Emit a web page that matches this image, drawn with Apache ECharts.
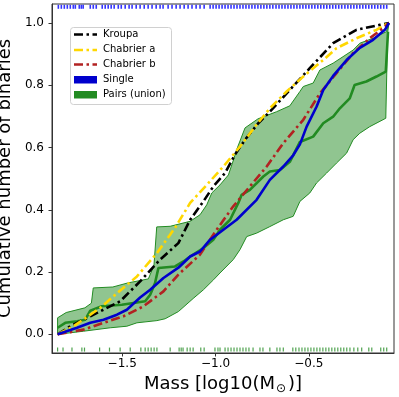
<!DOCTYPE html>
<html>
<head>
<meta charset="utf-8">
<script src="https://cdn.jsdelivr.net/npm/echarts@6/dist/echarts.min.js"></script>
<style>
  html, body { margin: 0; padding: 0; background: #fff; }
  #chart { width: 399px; height: 397px; }
</style>
</head>
<body>
<div id="chart"></div>
<script>
// curves: [log10 mass, cumulative fraction]
const kroupa = [
  [-1.846, 0], [-1.778, 0.026], [-1.671, 0.058], [-1.511, 0.106], [-1.404, 0.170],
  [-1.297, 0.240], [-1.199, 0.293], [-1.136, 0.368], [-1.065, 0.427], [-1.012, 0.475],
  [-0.949, 0.518], [-0.896, 0.577], [-0.842, 0.625], [-0.771, 0.678], [-0.709, 0.715],
  [-0.602, 0.785], [-0.495, 0.855], [-0.370, 0.935], [-0.245, 0.978], [-0.120, 0.994],
  [-0.071, 1.0]
]
const chabrierA = [
  [-1.846, 0], [-1.760, 0.026], [-1.618, 0.085], [-1.547, 0.122], [-1.421, 0.186],
  [-1.314, 0.261], [-1.217, 0.342], [-1.136, 0.422], [-1.047, 0.480], [-0.958, 0.539],
  [-0.869, 0.603], [-0.789, 0.667], [-0.709, 0.726], [-0.619, 0.780], [-0.530, 0.828],
  [-0.423, 0.881], [-0.352, 0.919], [-0.245, 0.951], [-0.138, 0.978], [-0.076, 0.999]
]
const chabrierB = [
  [-1.846, 0], [-1.707, 0.015], [-1.600, 0.037], [-1.493, 0.058], [-1.386, 0.090],
  [-1.279, 0.138], [-1.199, 0.192], [-1.083, 0.256], [-0.994, 0.336], [-0.905, 0.411],
  [-0.816, 0.475], [-0.726, 0.539], [-0.637, 0.614], [-0.530, 0.689], [-0.441, 0.774],
  [-0.352, 0.839], [-0.263, 0.903], [-0.174, 0.951], [-0.103, 0.983], [-0.071, 1.0]
]
const single = [
  [-1.846, 0], [-1.742, 0.021], [-1.671, 0.037], [-1.600, 0.047], [-1.528, 0.063],
  [-1.475, 0.079], [-1.404, 0.118], [-1.350, 0.143], [-1.279, 0.181], [-1.199, 0.214],
  [-1.136, 0.250], [-1.083, 0.266], [-1.029, 0.304], [-0.887, 0.368], [-0.780, 0.432],
  [-0.709, 0.496], [-0.637, 0.539], [-0.584, 0.575], [-0.548, 0.610], [-0.512, 0.667],
  [-0.459, 0.731], [-0.423, 0.785], [-0.370, 0.830], [-0.298, 0.881], [-0.227, 0.920],
  [-0.156, 0.946], [-0.093, 0.978], [-0.071, 1.0]
]
const pairsLine = [
  [-1.846, 0.021], [-1.805, 0.037], [-1.741, 0.042], [-1.698, 0.047], [-1.671, 0.076],
  [-1.609, 0.090], [-1.502, 0.095], [-1.377, 0.106], [-1.350, 0.127], [-1.324, 0.165],
  [-1.306, 0.213], [-1.217, 0.218], [-1.172, 0.234], [-1.136, 0.250], [-1.065, 0.277],
  [-1.012, 0.304], [-0.976, 0.336], [-0.922, 0.368], [-0.878, 0.422], [-0.860, 0.448],
  [-0.816, 0.464], [-0.744, 0.507], [-0.709, 0.523], [-0.655, 0.528], [-0.602, 0.554],
  [-0.548, 0.618], [-0.477, 0.635], [-0.423, 0.678], [-0.370, 0.699], [-0.334, 0.726],
  [-0.281, 0.758], [-0.255, 0.801], [-0.192, 0.812], [-0.138, 0.828], [-0.088, 0.844],
  [-0.076, 0.972]
]
const pairsUpper = [
  [-1.846, 0.053], [-1.800, 0.070], [-1.700, 0.085], [-1.665, 0.100], [-1.655, 0.149],
  [-1.550, 0.152], [-1.470, 0.165], [-1.360, 0.178], [-1.330, 0.220], [-1.315, 0.345],
  [-1.243, 0.347], [-1.136, 0.363], [-1.083, 0.384], [-1.047, 0.416], [-1.020, 0.454],
  [-0.976, 0.480], [-0.931, 0.512], [-0.904, 0.560], [-0.887, 0.593], [-0.842, 0.663],
  [-0.773, 0.692], [-0.673, 0.715], [-0.602, 0.734], [-0.548, 0.780], [-0.530, 0.796],
  [-0.477, 0.807], [-0.441, 0.849], [-0.370, 0.871], [-0.263, 0.913], [-0.227, 0.935],
  [-0.156, 0.951], [-0.085, 0.972], [-0.071, 1.0]
]
const pairsLower = [
  [-1.846, 0], [-1.707, 0.010], [-1.564, 0.021], [-1.475, 0.026], [-1.421, 0.037],
  [-1.314, 0.044], [-1.270, 0.050], [-1.199, 0.073], [-1.120, 0.115], [-1.065, 0.143],
  [-1.011, 0.175], [-0.976, 0.197], [-0.905, 0.240], [-0.869, 0.272], [-0.833, 0.314],
  [-0.780, 0.325], [-0.709, 0.346], [-0.637, 0.368], [-0.584, 0.379], [-0.548, 0.427],
  [-0.495, 0.454], [-0.459, 0.486], [-0.405, 0.518], [-0.352, 0.550], [-0.298, 0.582],
  [-0.263, 0.625], [-0.227, 0.646], [-0.174, 0.667], [-0.088, 0.694], [-0.078, 0.970]
]
// rug marks (masses of the objects)
const singleMasses = [
  -1.842, -1.826, -1.810, -1.794, -1.778, -1.762, -1.751, -1.730, -1.719, -1.709,
  -1.671, -1.655, -1.639, -1.607, -1.591, -1.575, -1.559, -1.543, -1.521, -1.505,
  -1.484, -1.463, -1.447, -1.425, -1.404, -1.382, -1.361, -1.340, -1.318, -1.297,
  -1.281, -1.254, -1.233, -1.211, -1.190, -1.168, -1.147, -1.126, -1.104, -1.083,
  -1.061, -1.029, -1.013, -0.997, -0.981, -0.965, -0.949, -0.933, -0.917, -0.901,
  -0.885, -0.869, -0.853, -0.837, -0.821, -0.805, -0.789, -0.773, -0.757, -0.741,
  -0.725, -0.709, -0.693, -0.676, -0.660, -0.644, -0.628, -0.612, -0.596, -0.580,
  -0.564, -0.548, -0.532, -0.516, -0.500, -0.484, -0.468, -0.452, -0.436, -0.420,
  -0.404, -0.388, -0.372, -0.356, -0.340, -0.324, -0.307, -0.291, -0.275, -0.259,
  -0.243, -0.227, -0.211, -0.195, -0.179, -0.163, -0.147, -0.131, -0.115, -0.099, -0.083
]
const pairMasses = [
  -1.846, -1.817, -1.769, -1.716, -1.702, -1.621, -1.568, -1.511, -1.457, -1.400,
  -1.377, -1.361, -1.345, -1.329, -1.314, -1.243, -1.195, -1.184, -1.174, -1.152,
  -1.136, -1.120, -1.079, -1.061, -1.003, -0.987, -0.976, -0.949, -0.933, -0.917,
  -0.901, -0.885, -0.869, -0.853, -0.837, -0.821, -0.799, -0.762, -0.746, -0.709,
  -0.671, -0.655, -0.637, -0.586, -0.570, -0.553, -0.537, -0.521, -0.505, -0.489,
  -0.473, -0.457, -0.441, -0.425, -0.409, -0.393, -0.377, -0.361, -0.345, -0.329,
  -0.313, -0.297, -0.280, -0.259, -0.238, -0.217, -0.179, -0.163, -0.115, -0.099, -0.083
]
const xTicks = [-1.5, -1.0, -0.5]
const yTicks = [0, 0.2, 0.4, 0.6, 0.8, 1.0]
const legendNames = ['Kroupa', 'Chabrier a', 'Chabrier b', 'Single', 'Pairs (union)']

const FONT = 'DejaVu Sans'
const dashDot = [9, 3.5, 2.5, 3.5]
const fmt = v => (v < 0 ? '\u2212' : '') + Math.abs(v).toFixed(1)

const chart = echarts.init(document.getElementById('chart'), null, { renderer: 'canvas' })

// polygon for the pairs band: upper edge forward, lower edge back
const bandPoly = pairsUpper.concat(pairsLower.slice().reverse())

const lineSeries = (name, data, color, dash) => ({
  name, type: 'line', data, showSymbol: false, symbol: 'none',
  lineStyle: { color, width: 2.6, type: dash || 'solid' },
  animation: false, z: 5
})

const option = {
  animation: false,
  grid: {
    left: 52, right: 5, top: 4, bottom: 44,
    containLabel: false, outerBoundsMode: 'none',
    show: true, borderColor: '#333', borderWidth: 1
  },
  xAxis: {
    type: 'value', min: -1.876, max: -0.044,
    name: 'Mass [log10(M{s|\u2299})]', nameLocation: 'middle', nameGap: 17,
    nameTextStyle: {
      fontFamily: FONT, fontSize: 18, color: '#000',
      rich: { s: { fontFamily: FONT, fontSize: 12, padding: [10, 2, 0, 1], color: '#000' } }
    },
    splitLine: { show: false },
    axisLine: { show: true, onZero: false, lineStyle: { color: '#333', width: 1 } },
    axisTick: { show: true, inside: false, length: 3.5, customValues: xTicks, lineStyle: { color: '#333' } },
    axisLabel: { customValues: xTicks, formatter: fmt, fontFamily: FONT, fontSize: 12, color: '#000', margin: 5 }
  },
  yAxis: {
    type: 'value', min: -0.06, max: 1.061,
    name: 'Cumulative number of binaries', nameLocation: 'middle', nameGap: 30,
    nameTextStyle: { fontFamily: FONT, fontSize: 18, color: '#000' },
    splitLine: { show: false },
    axisLine: { show: true, onZero: false, lineStyle: { color: '#333', width: 1 } },
    axisTick: { show: true, inside: false, length: 3.5, customValues: yTicks, lineStyle: { color: '#333' } },
    axisLabel: { customValues: yTicks, formatter: v => v.toFixed(1), fontFamily: FONT, fontSize: 12, color: '#000', margin: 8 }
  },
  series: [
    {
      name: 'Pairs band', type: 'custom', data: [0], z: 1,
      renderItem: (params, api) => ({
        type: 'polygon',
        shape: { points: bandPoly.map(p => api.coord(p)) },
        style: { fill: 'rgba(34,139,34,0.5)', stroke: '#228B22', lineWidth: 1 }
      })
    },
    lineSeries('Pairs (union)', pairsLine, '#228B22'),
    lineSeries('Kroupa', kroupa, '#000000', dashDot),
    lineSeries('Chabrier a', chabrierA, '#FFD700', dashDot),
    lineSeries('Chabrier b', chabrierB, '#B22222', dashDot),
    lineSeries('Single', single, '#0000CD'),
    {
      name: 'single rug', type: 'scatter', symbol: 'rect', symbolSize: [1.6, 4],
      data: singleMasses.map(m => [m, 1.052]),
      itemStyle: { color: '#0000FF', opacity: 0.8 }, z: 6
    },
    {
      name: 'pair rug', type: 'scatter', symbol: 'rect', symbolSize: [1.2, 4],
      data: pairMasses.map(m => [m, -0.049]),
      itemStyle: { color: '#228B22', opacity: 0.8 }, z: 6
    }
  ],
  graphic: [
    {
      type: 'rect', left: 70, top: 27, z: 50,
      shape: { width: 101, height: 77, r: 3 },
      style: { fill: 'rgba(255,255,255,0.85)', stroke: '#d0d0d0', lineWidth: 1 }
    },
    { type: 'line', z: 51, shape: { x1: 74, y1: 34.5, x2: 97, y2: 34.5 }, style: { stroke: '#000000', lineWidth: 2.6, lineDash: dashDot } },
    { type: 'line', z: 51, shape: { x1: 74, y1: 50, x2: 97, y2: 50 }, style: { stroke: '#FFD700', lineWidth: 2.6, lineDash: dashDot } },
    { type: 'line', z: 51, shape: { x1: 74, y1: 64.5, x2: 97, y2: 64.5 }, style: { stroke: '#B22222', lineWidth: 2.6, lineDash: dashDot } },
    { type: 'rect', z: 51, shape: { x: 74, y: 76, width: 23, height: 7.5 }, style: { fill: '#0000CD' } },
    { type: 'rect', z: 51, shape: { x: 74, y: 91, width: 23, height: 7.5 }, style: { fill: '#228B22' } }
  ].concat(legendNames.map((n, i) => ({
    type: 'text', z: 51, left: 103, top: [29, 44.5, 59, 74, 89.5][i],
    style: { text: n, fontFamily: FONT, fontSize: 10, fill: '#000' }
  })))
}

chart.setOption(option)
</script>
</body>
</html>
